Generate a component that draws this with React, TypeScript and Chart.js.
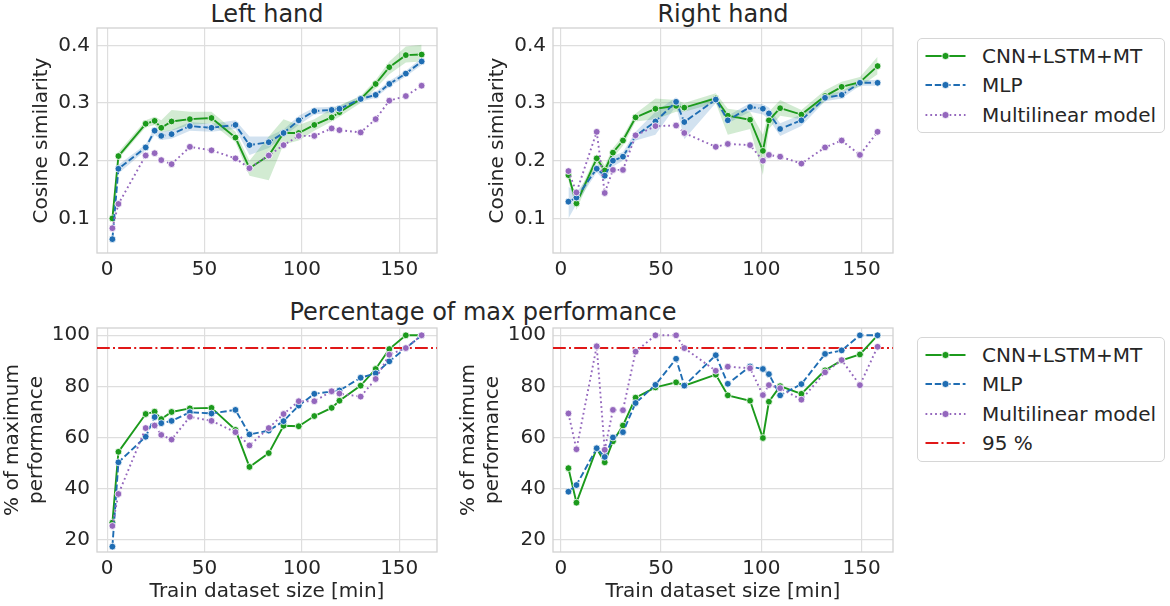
import React, { useEffect, useRef } from 'react';
import { Chart, registerables } from 'chart.js';

Chart.register(...registerables);

// ---------- data ----------
const xLeft = [2.7, 5.8, 19.8, 24.4, 27.8, 33.1, 42.5, 53.6, 65.9, 73.1, 83.0, 90.6, 98.4, 106.4, 115.3, 119.3, 130.2, 137.9, 144.9, 153.4, 161.5];
const xRight = [3.8, 7.8, 17.9, 21.9, 26.0, 31.0, 37.3, 47.2, 57.5, 61.6, 77.3, 83.3, 94.4, 100.8, 103.8, 109.4, 120.0, 131.8, 140.1, 149.2, 158.0];

const cnnLeft = [0.100, 0.208, 0.264, 0.269, 0.257, 0.268, 0.272, 0.274, 0.240, 0.187, 0.209, 0.248, 0.248, 0.262, 0.275, 0.284, 0.307, 0.333, 0.362, 0.383, 0.384];
const mlpLeft = [0.064, 0.186, 0.223, 0.252, 0.243, 0.246, 0.260, 0.257, 0.262, 0.227, 0.232, 0.248, 0.270, 0.286, 0.288, 0.290, 0.307, 0.314, 0.333, 0.351, 0.372];
const linLeft = [0.083, 0.125, 0.209, 0.213, 0.201, 0.194, 0.224, 0.218, 0.204, 0.187, 0.209, 0.227, 0.243, 0.243, 0.256, 0.253, 0.249, 0.272, 0.304, 0.312, 0.330];

const cnnLeftLo = [0.097, 0.203, 0.258, 0.262, 0.250, 0.252, 0.262, 0.265, 0.232, 0.174, 0.166, 0.228, 0.235, 0.252, 0.268, 0.276, 0.300, 0.325, 0.350, 0.370, 0.372];
const cnnLeftHi = [0.103, 0.215, 0.270, 0.276, 0.270, 0.288, 0.285, 0.285, 0.250, 0.200, 0.242, 0.272, 0.262, 0.272, 0.290, 0.296, 0.312, 0.340, 0.372, 0.398, 0.401];
const mlpLeftLo = [0.058, 0.178, 0.218, 0.245, 0.236, 0.238, 0.252, 0.250, 0.255, 0.210, 0.222, 0.242, 0.262, 0.280, 0.283, 0.285, 0.302, 0.309, 0.328, 0.346, 0.366];
const mlpLeftHi = [0.070, 0.193, 0.228, 0.258, 0.250, 0.253, 0.267, 0.264, 0.270, 0.242, 0.242, 0.254, 0.278, 0.292, 0.293, 0.295, 0.312, 0.319, 0.338, 0.356, 0.378];

const cnnRight = [0.175, 0.126, 0.204, 0.183, 0.214, 0.235, 0.275, 0.290, 0.295, 0.292, 0.308, 0.278, 0.271, 0.217, 0.270, 0.291, 0.280, 0.312, 0.328, 0.336, 0.364];
const mlpRight = [0.129, 0.136, 0.186, 0.174, 0.200, 0.207, 0.243, 0.268, 0.302, 0.267, 0.306, 0.270, 0.293, 0.290, 0.282, 0.255, 0.270, 0.309, 0.314, 0.335, 0.335];
const linRight = [0.182, 0.145, 0.250, 0.144, 0.184, 0.184, 0.244, 0.260, 0.261, 0.248, 0.224, 0.229, 0.227, 0.200, 0.210, 0.207, 0.195, 0.223, 0.235, 0.210, 0.250];

const cnnRightLo = [0.165, 0.115, 0.195, 0.175, 0.205, 0.226, 0.268, 0.272, 0.285, 0.285, 0.300, 0.245, 0.255, 0.175, 0.255, 0.278, 0.272, 0.303, 0.320, 0.328, 0.350];
const cnnRightHi = [0.180, 0.135, 0.212, 0.192, 0.222, 0.243, 0.282, 0.308, 0.305, 0.300, 0.317, 0.290, 0.285, 0.245, 0.285, 0.305, 0.288, 0.322, 0.337, 0.345, 0.380];
const mlpRightLo = [0.100, 0.125, 0.180, 0.165, 0.190, 0.200, 0.235, 0.245, 0.295, 0.237, 0.300, 0.265, 0.285, 0.280, 0.272, 0.243, 0.260, 0.303, 0.308, 0.330, 0.330];
const mlpRightHi = [0.155, 0.145, 0.192, 0.180, 0.208, 0.215, 0.250, 0.285, 0.310, 0.290, 0.312, 0.278, 0.300, 0.298, 0.292, 0.265, 0.280, 0.315, 0.320, 0.340, 0.340];

const cnnPerfLeft = [26.7, 54.4, 69.2, 70.1, 67.2, 70.0, 71.4, 71.6, 63.0, 48.5, 53.9, 64.6, 64.4, 68.4, 71.6, 74.4, 80.3, 86.8, 94.6, 100.0, 100.0];
const mlpPerfLeft = [17.3, 50.3, 60.3, 68.0, 65.6, 66.5, 69.9, 69.4, 70.8, 61.2, 62.7, 66.4, 72.5, 77.1, 78.0, 78.4, 83.4, 85.1, 89.8, 95.0, 100.0];
const linPerfLeft = [25.4, 37.9, 63.7, 64.7, 61.0, 59.2, 68.1, 66.5, 62.1, 56.9, 63.7, 69.2, 74.2, 74.2, 78.1, 77.2, 76.0, 82.9, 92.4, 95.0, 100.0];

const cnnPerfRight = [48.0, 34.5, 55.7, 50.3, 58.5, 64.7, 75.6, 79.6, 81.6, 80.3, 84.6, 76.5, 74.4, 59.8, 74.0, 80.1, 77.1, 86.3, 90.2, 92.5, 100.0];
const mlpPerfRight = [38.8, 41.4, 55.8, 52.4, 60.0, 62.1, 73.5, 80.6, 90.8, 80.3, 92.2, 81.0, 87.8, 86.8, 84.8, 76.5, 80.9, 92.7, 94.1, 100.0, 100.0];
const linPerfRight = [69.4, 55.4, 95.7, 55.2, 70.8, 70.7, 93.6, 100.0, 100.0, 95.0, 86.1, 87.7, 87.1, 76.6, 80.5, 79.3, 74.8, 85.5, 90.3, 80.5, 95.5];

const threshold = 95;
const seriesNames = ['CNN+LSTM+MT', 'MLP', 'Multilinear model'];
const thresholdName = '95 %';
const xTicksStep = 50;

// ---------- styles ----------
const FONT = "'DejaVu Sans', 'Noto Sans', sans-serif";
const TEXT = '#262626';
const GRID = '#dedede';
const FRAME = '#d2d2d2';
const GREEN = '#1c9a1c';
const BLUE = '#1f6db3';
const PURPLE = '#9467bd';
const RED = '#e01818';
const GREEN_BAND = 'rgba(28,154,28,0.2)';
const BLUE_BAND = 'rgba(31,109,179,0.2)';
const DASH_MLP = [6.5, 2.8];
const DASH_LIN = [1.8, 3];
const DASH_RED = [12.8, 3.2, 2, 3.2];

const framePlugin = {
  id: 'frame',
  beforeDatasetsDraw(chart: any) {
    const { ctx, chartArea } = chart;
    ctx.save();
    ctx.strokeStyle = FRAME;
    ctx.lineWidth = 1.3;
    ctx.strokeRect(chartArea.left, chartArea.top, chartArea.right - chartArea.left, chartArea.bottom - chartArea.top);
    ctx.restore();
  },
};

type Series = { values: number[]; color: string; dash: number[]; order: number };
type Band = { lo: number[]; hi: number[]; fill: string };
type PanelCfg = {
  left: number; top: number; width: number; height: number;
  yw: number; xh: number;
  xmin: number; xmax: number; ymin: number; ymax: number; ystep: number; ydec: number;
  xs: number[];
  series: Series[];
  bands: Band[];
  threshold?: number;
  yTitle: string | string[];
  yTitlePad: number;
  xTitle: boolean;
};

function Panel({ cfg }: { cfg: PanelCfg }) {
  const ref = useRef<HTMLCanvasElement>(null);
  useEffect(() => {
    const p = cfg;
    const pts = (ys: number[]) => p.xs.map((x, i) => ({ x, y: ys[i] }));
    const datasets: any[] = [];
    p.bands.forEach((b) => {
      datasets.push({ data: pts(b.lo), borderWidth: 0, borderColor: 'rgba(0,0,0,0)', pointRadius: 0, fill: false, order: 6 });
      datasets.push({ data: pts(b.hi), borderWidth: 0, borderColor: 'rgba(0,0,0,0)', pointRadius: 0, fill: '-1', backgroundColor: b.fill, order: 6 });
    });
    p.series.forEach((s) => {
      datasets.push({
        data: pts(s.values),
        borderColor: s.color,
        backgroundColor: s.color,
        borderWidth: 1.9,
        borderDash: s.dash,
        borderCapStyle: 'butt',
        pointRadius: 3.4,
        pointHoverRadius: 3.4,
        pointBackgroundColor: s.color,
        pointBorderColor: '#ffffff',
        pointBorderWidth: 0.8,
        fill: false,
        tension: 0,
        order: s.order,
      });
    });
    if (p.threshold !== undefined) {
      datasets.push({
        data: [{ x: p.xmin, y: p.threshold }, { x: p.xmax, y: p.threshold }],
        borderColor: RED,
        borderWidth: 2,
        borderDash: DASH_RED,
        borderCapStyle: 'butt',
        pointRadius: 0,
        fill: false,
        order: 10,
      });
    }
    const tickFont = { size: 20, family: FONT };
    const chart = new Chart(ref.current!, {
      type: 'line',
      data: { datasets },
      plugins: [framePlugin],
      options: {
        animation: false,
        responsive: false,
        maintainAspectRatio: false,
        layout: { padding: { top: 20, right: 20, left: 0, bottom: 0 } },
        plugins: { legend: { display: false }, tooltip: { enabled: false }, title: { display: false } },
        events: [],
        scales: {
          x: {
            type: 'linear',
            min: p.xmin,
            max: p.xmax,
            afterFit: (s: any) => { s.height = p.xh; },
            ticks: { stepSize: xTicksStep, includeBounds: false, padding: 5, color: TEXT, font: tickFont, maxRotation: 0, autoSkip: false },
            grid: { color: GRID, lineWidth: 1.2, drawTicks: false },
            border: { display: false },
            title: p.xTitle
              ? { display: true, text: 'Train dataset size [min]', color: TEXT, font: { size: 20, family: FONT, lineHeight: 1.2 }, padding: { top: 0, bottom: 2.3 } }
              : { display: false },
          },
          y: {
            type: 'linear',
            min: p.ymin,
            max: p.ymax,
            afterFit: (s: any) => { s.width = p.yw; },
            ticks: {
              stepSize: p.ystep, includeBounds: false, padding: 7, color: TEXT, font: tickFont,
              callback: (v: any) => Number(v).toFixed(p.ydec),
            },
            grid: { color: GRID, lineWidth: 1.2, drawTicks: false },
            border: { display: false },
            title: { display: true, text: p.yTitle, color: TEXT, font: { size: 20, family: FONT, lineHeight: 1.2 }, padding: { top: p.yTitlePad, bottom: 0 } },
          },
        },
      } as any,
    });
    return () => chart.destroy();
  }, [cfg]);
  return (
    <canvas
      ref={ref}
      width={cfg.width}
      height={cfg.height}
      style={{ position: 'absolute', left: cfg.left, top: cfg.top, width: cfg.width, height: cfg.height }}
    />
  );
}

type LegendItem = { label: string; color: string; dash: number[] | null; marker: boolean };

function LegendBox({ left, top, width, height, items }: { left: number; top: number; width: number; height: number; items: LegendItem[] }) {
  return (
    <div
      style={{
        position: 'absolute', left, top, width, height, boxSizing: 'border-box',
        border: '1.3px solid #d6d6d6', borderRadius: 5, background: 'rgba(255,255,255,0.8)',
      }}
    >
      {items.map((it, i) => (
        <div key={i} style={{ position: 'absolute', left: 0, top: 16.5 + i * 29.5 - 15, height: 30, width: width - 4 }}>
          <svg width={60} height={30} style={{ position: 'absolute', left: 0, top: 0 }}>
            <line
              x1={7.5} y1={15} x2={47.5} y2={15}
              stroke={it.color} strokeWidth={it.marker ? 1.9 : 2}
              strokeDasharray={it.dash ? it.dash.join(' ') : undefined}
            />
            {it.marker && <circle cx={27.5} cy={15} r={3.6} fill={it.color} stroke="#ffffff" strokeWidth={0.8} />}
          </svg>
          <div
            style={{
              position: 'absolute', left: 64, top: 0, height: 30, lineHeight: '30px',
              fontFamily: FONT, fontSize: 20, color: TEXT, whiteSpace: 'nowrap',
            }}
          >
            {it.label}
          </div>
        </div>
      ))}
    </div>
  );
}

const legendBase: LegendItem[] = [
  { label: seriesNames[0], color: GREEN, dash: null, marker: true },
  { label: seriesNames[1], color: BLUE, dash: DASH_MLP, marker: true },
  { label: seriesNames[2], color: PURPLE, dash: DASH_LIN, marker: true },
];
const legendPerf: LegendItem[] = [...legendBase, { label: thresholdName, color: RED, dash: DASH_RED, marker: false }];

const mkSeries = (c: number[], m: number[], l: number[]): Series[] => [
  { values: c, color: GREEN, dash: [], order: 3 },
  { values: m, color: BLUE, dash: DASH_MLP, order: 2 },
  { values: l, color: PURPLE, dash: DASH_LIN, order: 1 },
];

const panels: PanelCfg[] = [
  {
    left: 0, top: 8, width: 457, height: 285, yw: 97, xh: 40,
    xmin: -5.2, xmax: 169.4, ymin: 0.04, ymax: 0.43, ystep: 0.1, ydec: 1,
    xs: xLeft, series: mkSeries(cnnLeft, mlpLeft, linLeft),
    bands: [
      { lo: cnnLeftLo, hi: cnnLeftHi, fill: GREEN_BAND },
      { lo: mlpLeftLo, hi: mlpLeftHi, fill: BLUE_BAND },
    ],
    yTitle: 'Cosine similarity', yTitlePad: 30, xTitle: false,
  },
  {
    left: 456, top: 8, width: 457, height: 285, yw: 97, xh: 40,
    xmin: -3.9, xmax: 165.7, ymin: 0.04, ymax: 0.43, ystep: 0.1, ydec: 1,
    xs: xRight, series: mkSeries(cnnRight, mlpRight, linRight),
    bands: [
      { lo: cnnRightLo, hi: cnnRightHi, fill: GREEN_BAND },
      { lo: mlpRightLo, hi: mlpRightHi, fill: BLUE_BAND },
    ],
    yTitle: 'Cosine similarity', yTitlePad: 30, xTitle: false,
  },
  {
    left: 0, top: 308, width: 457, height: 298, yw: 97, xh: 54,
    xmin: -5.2, xmax: 169.4, ymin: 15.2, ymax: 102.85, ystep: 20, ydec: 0,
    xs: xLeft, series: mkSeries(cnnPerfLeft, mlpPerfLeft, linPerfLeft),
    bands: [], threshold,
    yTitle: ['% of maximum', 'performance'], yTitlePad: 1, xTitle: true,
  },
  {
    left: 456, top: 308, width: 457, height: 298, yw: 97, xh: 54,
    xmin: -3.9, xmax: 165.7, ymin: 15.2, ymax: 102.85, ystep: 20, ydec: 0,
    xs: xRight, series: mkSeries(cnnPerfRight, mlpPerfRight, linPerfRight),
    bands: [], threshold,
    yTitle: ['% of maximum', 'performance'], yTitlePad: 1, xTitle: true,
  },
];

const titleStyle: React.CSSProperties = {
  position: 'absolute', fontFamily: FONT, fontSize: 24, lineHeight: '28px', color: TEXT,
  textAlign: 'center', whiteSpace: 'nowrap',
};

export default function App() {
  return (
    <div style={{ position: 'absolute', left: 0, top: 0, width: 1170, height: 606, background: '#ffffff', overflow: 'hidden' }}>
      <div style={{ ...titleStyle, left: 97, top: 0, width: 340 }}>Left hand</div>
      <div style={{ ...titleStyle, left: 553, top: 0, width: 340 }}>Right hand</div>
      <div style={{ ...titleStyle, left: 183, top: 297.5, width: 600 }}>Percentage of max performance</div>
      {panels.map((cfg, i) => (
        <Panel key={i} cfg={cfg} />
      ))}
      <LegendBox left={917} top={38} width={248} height={95} items={legendBase} />
      <LegendBox left={917} top={337} width={248} height={125} items={legendPerf} />
    </div>
  );
}
